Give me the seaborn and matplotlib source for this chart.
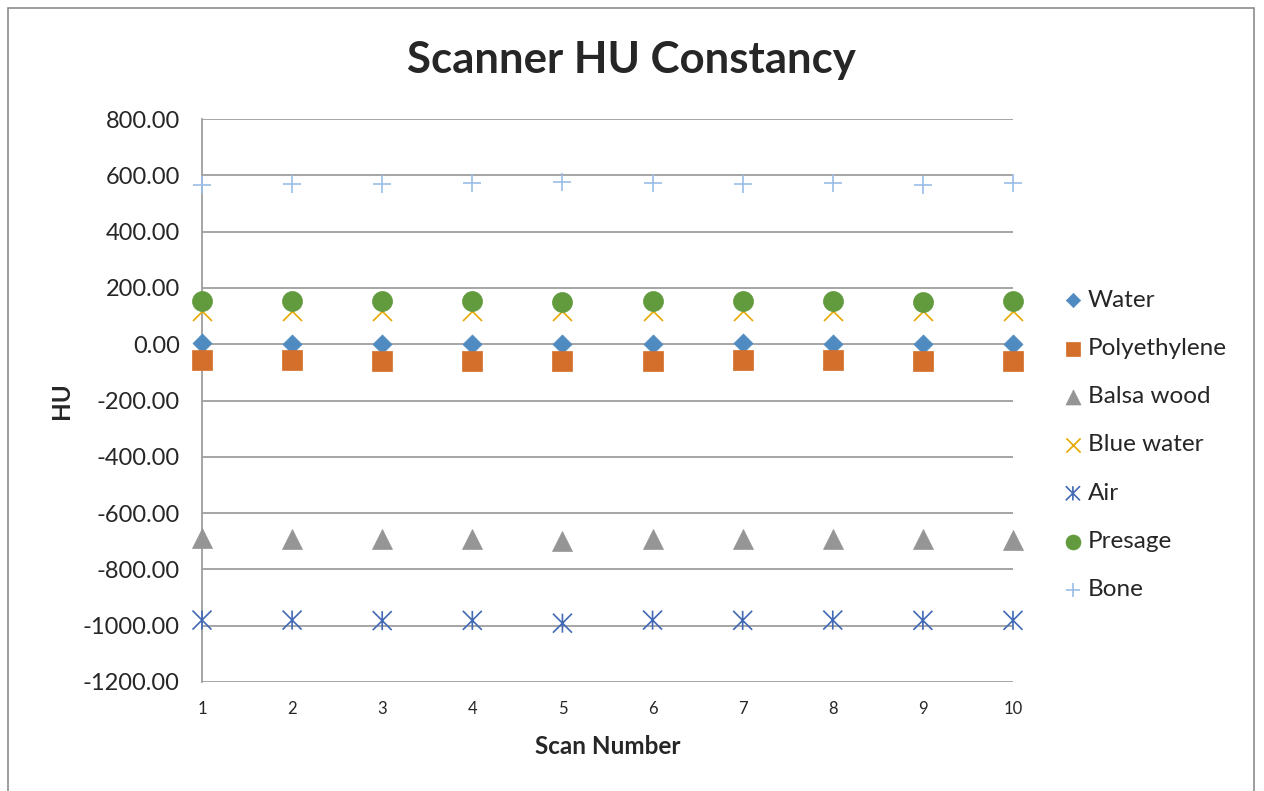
import matplotlib
matplotlib.use("Agg")
import matplotlib.pyplot as plt
import seaborn as sns
from matplotlib.path import Path
from matplotlib.patches import Rectangle

# data
scans = [1, 2, 3, 4, 5, 6, 7, 8, 9, 10]
water = [3, 2, 2, 1, 2, 2, 3, 2, 2, 2]
polyethylene = [-57, -57, -58, -58, -59, -58, -57, -57, -58, -58]
balsa_wood = [-690, -692, -693, -692, -698, -692, -692, -692, -693, -697]
blue_water = [118, 118, 117, 118, 117, 117, 118, 118, 117, 117]
air = [-980, -980, -982, -981, -991, -980, -981, -980, -981, -981]
presage = [153, 153, 152, 152, 151, 152, 153, 152, 151, 152]
bone = [566, 568, 569, 571, 577, 571, 569, 571, 566, 573]
y_ticks = [800, 600, 400, 200, 0, -200, -400, -600, -800, -1000, -1200]

sns.set_style("white")
plt.rcParams["font.family"] = ["Lato", "DejaVu Sans"]

# Excel style asterisk: an X plus a vertical bar
star = Path([(-0.5, -0.5), (0.5, 0.5), (-0.5, 0.5), (0.5, -0.5), (0, -0.5), (0, 0.5)],
            [Path.MOVETO, Path.LINETO, Path.MOVETO, Path.LINETO, Path.MOVETO, Path.LINETO])

fig = plt.figure(figsize=(12.64, 7.91), dpi=100)
W, H = 1264, 791
ax = fig.add_axes([202 / W, 1 - 682 / H, (1013 - 202) / W, (682 - 119) / H])

series = [
    ("Water", water, dict(marker="D", s=94, color="#4F8BC0", edgecolor="#4F8BC0", linewidth=0.5)),
    ("Polyethylene", polyethylene, dict(marker="s", s=207, color="#D46F2B", edgecolor="#D46F2B", linewidth=0.5)),
    ("Balsa wood", balsa_wood, dict(marker="^", s=207, color="#959595", edgecolor="#959595", linewidth=0.5)),
    ("Blue water", blue_water, dict(marker="x", s=187, color="#E6A800", linewidth=1.2)),
    ("Air", air, dict(marker=star, s=187, color="#4169B4", facecolor="none", edgecolor="#4169B4", linewidth=1.2)),
    ("Presage", presage, dict(marker="o", s=207, color="#629B3D", edgecolor="#629B3D", linewidth=0.5)),
    ("Bone", bone, dict(marker="+", s=187, color="#9ABDE6", linewidth=1.2)),
]
for name, vals, kw in series:
    sns.scatterplot(x=scans, y=vals, label=name, ax=ax, clip_on=False, zorder=3, **kw)

ax.set_xlim(1, 10)
ax.set_ylim(-1200, 800)
ax.set_xticks(scans)
ax.set_yticks(y_ticks)
ax.set_yticklabels([f"{v:.2f}" for v in y_ticks])
ax.tick_params(axis="y", length=0, labelsize=17, pad=16)
ax.tick_params(axis="x", length=0, labelsize=12, pad=14)
ax.grid(axis="y", color="#9E9E9E", linewidth=1.3)
ax.grid(axis="x", visible=False)
for side in ["top", "right", "bottom"]:
    ax.spines[side].set_visible(False)
ax.spines["left"].set_color("#9E9E9E")
ax.spines["left"].set_linewidth(1.3)

ax.set_xlabel("Scan Number", fontsize=17.5, fontweight="bold", labelpad=13)
ax.set_ylabel("HU", fontsize=17.5, fontweight="bold", labelpad=7)
fig.text(631 / W, 1 - 60 / H, "Scanner HU Constancy", fontsize=31.5, fontweight="bold",
         ha="center", va="center")

ax.legend(loc="upper left", bbox_to_anchor=(1051 / W, 1 - 280 / H), bbox_transform=fig.transFigure,
          frameon=False, fontsize=17.5, markerscale=0.75, handletextpad=0.12, labelspacing=1.12,
          handlelength=1.0, borderaxespad=0)

fig.patches.append(Rectangle((8 / W, -0.01), (1254 - 8) / W, 1.01 - 8 / H, transform=fig.transFigure,
                             fill=False, edgecolor="#8C8C8C", linewidth=1.2))

fig.savefig("out.png", dpi=100)
